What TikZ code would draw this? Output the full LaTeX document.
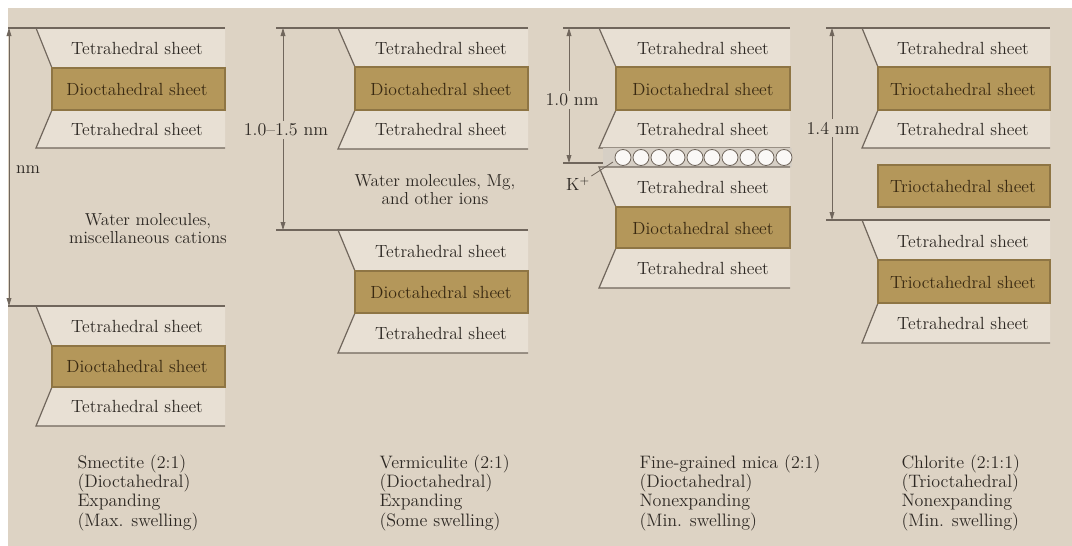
\documentclass[tikz,border=0pt]{standalone}
\usetikzlibrary{arrows.meta}

\definecolor{bgbeige}{RGB}{221,211,196}
\definecolor{tetracol}{RGB}{232,224,212}
\definecolor{octcol}{RGB}{180,151,90}
\definecolor{octedge}{RGB}{142,117,68}
\definecolor{linecol}{RGB}{112,102,92}
\definecolor{inkcol}{RGB}{45,40,35}
\definecolor{octink}{RGB}{58,42,18}
\definecolor{bandcol}{RGB}{214,207,197}

\tikzset{every picture/.style={line width=0.75pt},
  tetfill/.style={fill=tetracol},
  edgeline/.style={draw=linecol, line width=0.9pt},
  octbox/.style={fill=octcol, draw=octedge, line width=1pt},
  sheettext/.style={inner sep=0.75pt, text=inkcol, font=\fontsize{13.2}{15}\selectfont},
  octtext/.style={sheettext, text=octink},
  dimline/.style={draw=linecol, line width=0.6pt, {Triangle[length=6pt,width=3.6pt]}-{Triangle[length=6pt,width=3.6pt]}},
  dimlabel/.style={fill=bgbeige, inner sep=2pt, text=inkcol, font=\fontsize{13.5}{15}\selectfont},
  watertext/.style={align=center, inner sep=0.75pt, text=inkcol, font=\fontsize{13}{13.5}\selectfont},
  claytext/.style={anchor=north west, align=left, inner sep=0pt, text=inkcol, font=\fontsize{13.5}{14.6}\selectfont},
  kion/.style={fill=white!85!bgbeige, draw=linecol, line width=0.6pt}
}

\begin{document}
\begin{tikzpicture}[x=0.75pt,y=0.75pt,yscale=-1,xscale=1]
\useasboundingbox (0,0) rectangle (1072,546);
\fill[white] (0,0) rectangle (1072,546);
\fill[bgbeige] (8,8) rectangle (1072,546);

%Smectite, upper layer
\fill[tetfill] (36,28) -- (225,28) -- (225,68) -- (52,68) -- cycle;
\fill[tetfill] (52,110) -- (225,110) -- (225,148) -- (36,148) -- cycle;
\draw[edgeline] (225,28) -- (8,28);
\draw[edgeline] (36,28) -- (52,68);
\draw[edgeline] (52,110) -- (36,148) -- (225,148);
\draw[octbox] (52,68) rectangle (225,110);
%Smectite, lower layer
\fill[tetfill] (36,306) -- (225,306) -- (225,346) -- (52,346) -- cycle;
\fill[tetfill] (52,387) -- (225,387) -- (225,426) -- (36,426) -- cycle;
\draw[edgeline] (225,306) -- (8,306);
\draw[edgeline] (36,306) -- (52,346);
\draw[edgeline] (52,387) -- (36,426) -- (225,426);
\draw[octbox] (52,346) rectangle (225,387);

%Vermiculite, upper layer
\fill[tetfill] (338,28) -- (528,28) -- (528,67) -- (355,67) -- cycle;
\fill[tetfill] (355,110) -- (528,110) -- (528,149) -- (338,149) -- cycle;
\draw[edgeline] (528,28) -- (276,28);
\draw[edgeline] (338,28) -- (355,67);
\draw[edgeline] (355,110) -- (338,149) -- (528,149);
\draw[octbox] (355,67) rectangle (528,110);
%Vermiculite, lower layer
\fill[tetfill] (338,230) -- (528,230) -- (528,271) -- (355,271) -- cycle;
\fill[tetfill] (355,313) -- (528,313) -- (528,353) -- (338,353) -- cycle;
\draw[edgeline] (528,230) -- (276,230);
\draw[edgeline] (338,230) -- (355,271);
\draw[edgeline] (355,313) -- (338,353) -- (528,353);
\draw[octbox] (355,271) rectangle (528,313);

%Fine-grained mica, upper layer
\fill[tetfill] (599,28) -- (790,28) -- (790,67) -- (616,67) -- cycle;
\fill[tetfill] (616,110) -- (790,110) -- (790,148) -- (599,148) -- cycle;
\draw[edgeline] (790,28) -- (563,28);
\draw[edgeline] (599,28) -- (616,67);
\draw[edgeline] (616,110) -- (599,148) -- (790,148);
\draw[octbox] (616,67) rectangle (790,110);
%K ion interlayer
\fill[bandcol] (603,148) rectangle (792,167);
\draw[edgeline] (563,163) -- (603,163);
\draw[kion] (623,157.5) circle (6pt);
\draw[kion] (641,157.5) circle (6pt);
\draw[kion] (659,157.5) circle (6pt);
\draw[kion] (677,157.5) circle (6pt);
\draw[kion] (695,157.5) circle (6pt);
\draw[kion] (712,157.5) circle (6pt);
\draw[kion] (730,157.5) circle (6pt);
\draw[kion] (748,157.5) circle (6pt);
\draw[kion] (766,157.5) circle (6pt);
\draw[kion] (784,157.5) circle (6pt);
%Fine-grained mica, lower layer
\fill[tetfill] (599,167) -- (790,167) -- (790,207) -- (616,207) -- cycle;
\fill[tetfill] (616,248) -- (790,248) -- (790,288) -- (599,288) -- cycle;
\draw[edgeline] (790,167) -- (599,167) -- (616,207);
\draw[edgeline] (616,248) -- (599,288) -- (790,288);
\draw[octbox] (616,207) rectangle (790,248);

%Chlorite, upper layer
\fill[tetfill] (862,28) -- (1050,28) -- (1050,67) -- (878,67) -- cycle;
\fill[tetfill] (878,110) -- (1050,110) -- (1050,148) -- (862,148) -- cycle;
\draw[edgeline] (1050,28) -- (826,28);
\draw[edgeline] (862,28) -- (878,67);
\draw[edgeline] (878,110) -- (862,148) -- (1050,148);
\draw[octbox] (878,67) rectangle (1050,110);
%Chlorite, interlayer sheet
\draw[octbox] (878,165) rectangle (1050,207);
%Chlorite, lower layer
\fill[tetfill] (862,220) -- (1050,220) -- (1050,260) -- (878,260) -- cycle;
\fill[tetfill] (878,303) -- (1050,303) -- (1050,343) -- (862,343) -- cycle;
\draw[edgeline] (1050,220) -- (826,220);
\draw[edgeline] (862,220) -- (878,260);
\draw[edgeline] (878,303) -- (862,343) -- (1050,343);
\draw[octbox] (878,260) rectangle (1050,303);

% Text Node
\node[sheettext] (sm1t) at (137,48) {Tetrahedral sheet};
\node[octtext] (sm1o) at (137,89) {Dioctahedral sheet};
\node[sheettext] (sm1b) at (137,129) {Tetrahedral sheet};
\node[sheettext] (sm2t) at (137,326) {Tetrahedral sheet};
\node[octtext] (sm2o) at (137,366) {Dioctahedral sheet};
\node[sheettext] (sm2b) at (137,406) {Tetrahedral sheet};
% Text Node
\node[sheettext] (vm1t) at (441,48) {Tetrahedral sheet};
\node[octtext] (vm1o) at (441,89) {Dioctahedral sheet};
\node[sheettext] (vm1b) at (441,129) {Tetrahedral sheet};
\node[sheettext] (vm2t) at (441,251) {Tetrahedral sheet};
\node[octtext] (vm2o) at (441,292) {Dioctahedral sheet};
\node[sheettext] (vm2b) at (441,333) {Tetrahedral sheet};
% Text Node
\node[sheettext] (mi1t) at (703,48) {Tetrahedral sheet};
\node[octtext] (mi1o) at (703,89) {Dioctahedral sheet};
\node[sheettext] (mi1b) at (703,129) {Tetrahedral sheet};
\node[sheettext] (mi2t) at (703,187) {Tetrahedral sheet};
\node[octtext] (mi2o) at (703,228) {Dioctahedral sheet};
\node[sheettext] (mi2b) at (703,268) {Tetrahedral sheet};
% Text Node
\node[sheettext] (ch1t) at (963,48) {Tetrahedral sheet};
\node[octtext] (ch1o) at (963,89) {Trioctahedral sheet};
\node[sheettext] (ch1b) at (963,129) {Tetrahedral sheet};
\node[octtext] (chmid) at (963,186) {Trioctahedral sheet};
\node[sheettext] (ch2t) at (963,241) {Tetrahedral sheet};
\node[octtext] (ch2o) at (963,282) {Trioctahedral sheet};
\node[sheettext] (ch2b) at (963,323) {Tetrahedral sheet};

%Dimension arrows
\coordinate (smtop) at (9,28);
\coordinate (smbot) at (9,306);
\draw[dimline] (smtop) -- (smbot);
\node[sheettext] (smdim) at (28,170) {nm};
\coordinate (vmtop) at (283,28);
\coordinate (vmbot) at (283,230);
\draw[dimline] (vmtop) -- (vmbot);
\node[dimlabel] (vmdim) at (286,130) {1.0--1.5 nm};
\coordinate (mitop) at (569,28);
\coordinate (mibot) at (569,163);
\draw[dimline] (mitop) -- (mibot);
\node[dimlabel] (midim) at (572,100) {1.0 nm};
\coordinate (chtop) at (832,28);
\coordinate (chbot) at (832,220);
\draw[dimline] (chtop) -- (chbot);
\node[dimlabel] (chdim) at (833,128) {1.4 nm};

%K+ pointer
\node[sheettext] (kplus) at (578,184) {K$^{+}$};
\coordinate (kend) at (613,162);
\draw[draw=linecol, line width=0.6pt] (kplus.north east) -- (kend);

% Text Node
\node[watertext] (smwater) at (148,229) {Water molecules,\\miscellaneous cations};
\node[watertext] (vmwater) at (435,190) {Water molecules, Mg,\\and other ions};

% Text Node
\node[claytext] (smcap) at (77,454) {Smectite (2:1)\\(Dioctahedral)\\Expanding\\(Max. swelling)};
\node[claytext] (vmcap) at (379,454) {Vermiculite (2:1)\\(Dioctahedral)\\Expanding\\(Some swelling)};
\node[claytext] (micap) at (639,454) {Fine-grained mica (2:1)\\(Dioctahedral)\\Nonexpanding\\(Min. swelling)};
\node[claytext] (chcap) at (901,454) {Chlorite (2:1:1)\\(Trioctahedral)\\Nonexpanding\\(Min. swelling)};

\end{tikzpicture}
\end{document}
